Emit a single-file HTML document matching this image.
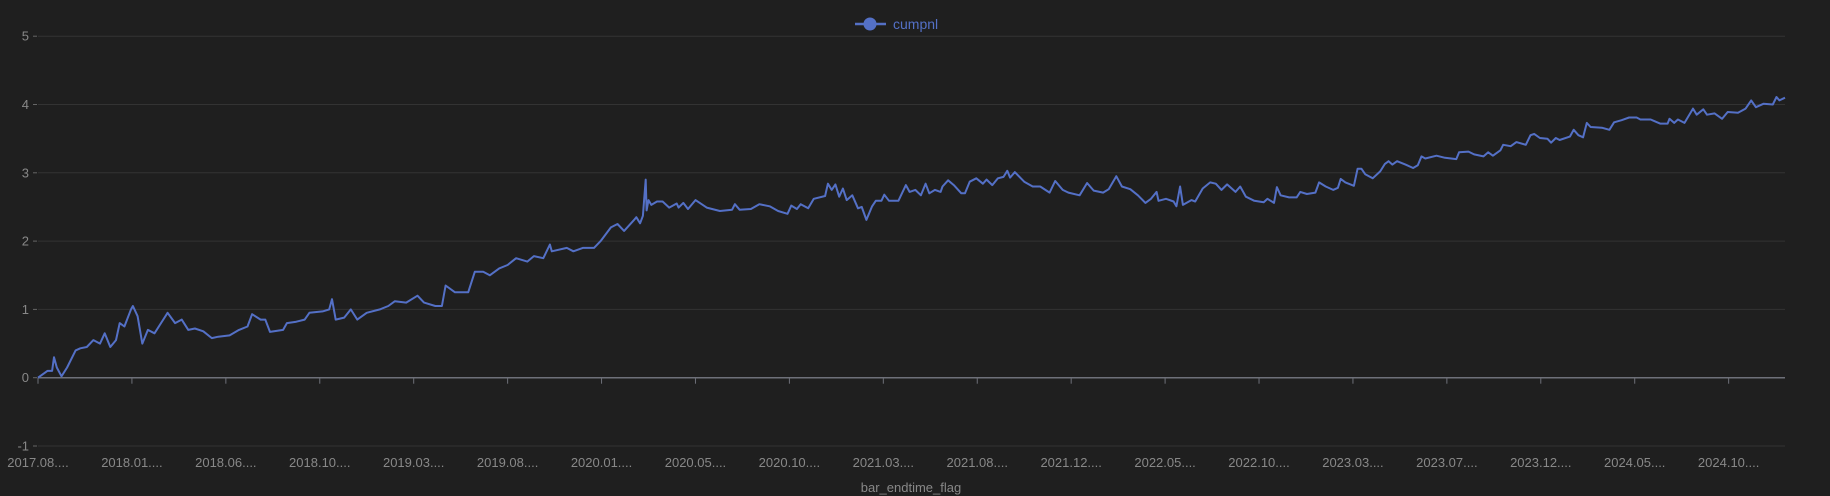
<!DOCTYPE html>
<html><head><meta charset="utf-8"><style>
html,body{margin:0;padding:0;background:#1f1f1f;}
svg{display:block;font-family:"Liberation Sans",sans-serif;}
</style></head><body>
<svg id="chart" width="1830" height="496" viewBox="0 0 1830 496" xmlns="http://www.w3.org/2000/svg">
<rect width="1830" height="496" fill="#1f1f1f"/>
<g id="legend">
<line x1="855" y1="24" x2="886" y2="24" stroke="#5470c6" stroke-width="2.5"/>
<circle cx="870" cy="24" r="6.5" fill="#5470c6"/>
<text x="893" y="29" font-size="14" fill="#5470c6">cumpnl</text>
</g>
<g id="grid"></g><g id="xaxis"></g><g id="yaxis"></g><g id="series"></g>
<text x="911" y="492" font-size="13" fill="#888" text-anchor="middle">bar_endtime_flag</text>
</svg>
<script>
const categories=["2017.08....","2018.01....","2018.06....","2018.10....","2019.03....","2019.08....","2020.01....","2020.05....","2020.10....","2021.03....","2021.08....","2021.12....","2022.05....","2022.10....","2023.03....","2023.07....","2023.12....","2024.05....","2024.10...."];
const yTicks=[-1,0,1,2,3,4,5];
const barIndex=[0,1.0,1.5,1.7,2.0,2.5,3.1,4.0,4.5,5.2,5.9,6.6,7.1,7.7,8.3,8.7,9.2,9.9,10.1,10.6,11.1,11.7,12.4,13.1,13.8,14.6,15.3,16.0,16.7,17.6,18.5,19.2,20.4,21.4,22.3,22.8,23.7,24.2,24.7,26.1,26.5,27.5,28.4,28.9,30.3,31.0,31.3,31.7,32.6,33.3,34.0,35.0,36.4,37.3,38.0,39.2,40.4,41.1,42.3,43.0,43.4,44.4,45.8,46.5,47.4,48.1,49.1,50.0,50.9,52.1,52.8,53.8,54.5,54.7,56.3,57.0,58.0,59.2,59.9,61.0,61.7,62.4,63.4,63.7,
64.1,64.4,64.7,64.8,65.0,65.3,65.9,66.5,67.2,68.0,68.2,68.7,69.2,70.0,71.2,72.6,73.9,74.2,74.7,75.9,76.8,77.9,78.8,79.8,80.2,80.8,81.2,82.0,82.6,83.8,84.1,84.5,84.9,85.3,85.7,86.1,86.7,87.3,87.7,88.2,88.8,89.2,89.8,90.1,90.6,91.6,92.4,92.8,93.4,94.0,94.5,94.9,95.5,96.1,96.3,96.9,97.5,98.3,98.7,99.2,99.9,100.6,101.0,101.6,102.2,102.8,103.2,103.5,104.0,105.0,105.9,106.7,107.7,108.3,109.1,109.7,110.9,111.7,112.4,113.4,114.0,114.8,115.4,116.3,117.1,117.9,118.5,119.1,119.3,120.1,120.9,121.2,121.6,121.9,122.8,123.2,124.0,124.8,125.4,126.0,126.6,127.5,128.0,
128.6,129.5,130.5,130.9,131.6,131.9,132.3,133.2,134.0,134.4,135.1,136.0,136.4,137.1,137.9,138.4,138.7,139.2,140.1,140.5,140.9,141.3,142.1,142.9,143.4,143.8,144.2,144.7,145.6,146.4,146.9,147.3,147.7,148.9,149.8,151.0,151.3,152.3,152.9,153.9,154.4,154.9,155.7,156.0,156.8,157.4,158.4,158.9,159.3,159.9,160.7,161.1,161.6,162.0,163.1,163.5,164.0,164.5,164.9,165.3,166.5,167.3,167.8,168.6,169.4,170.2,170.6,171.7,172.7,173.5,173.7,174.2,174.6,175.3,176.2,176.6,177.3,177.7,178.5,179.3,179.9,181.0,181.8,182.4,182.9,183.7,184.7,185.1,185.4,186];
const cumpnl=[0,0.1,0.1,0.3,0.15,0.02,0.15,0.4,0.43,0.45,0.55,0.5,0.65,0.45,0.55,0.8,0.75,1.0,1.05,0.9,0.5,0.7,0.65,0.8,0.95,0.8,0.85,0.7,0.72,0.68,0.58,0.6,0.62,0.7,0.75,0.93,0.85,0.85,0.67,0.7,0.8,0.82,0.85,0.95,0.97,1.0,1.15,0.85,0.88,1.0,0.85,0.95,1.0,1.05,1.12,1.1,1.2,1.1,1.05,1.05,1.35,1.25,1.25,1.55,1.55,1.5,1.6,1.65,1.75,1.7,1.78,1.75,1.95,1.85,1.9,1.85,1.9,1.9,2.0,2.2,2.25,2.15,2.3,2.35,
2.26,2.37,2.9,2.45,2.6,2.53,2.58,2.58,2.49,2.55,2.49,2.56,2.47,2.6,2.49,2.44,2.46,2.54,2.46,2.47,2.54,2.51,2.44,2.4,2.52,2.47,2.54,2.48,2.62,2.66,2.84,2.75,2.83,2.65,2.77,2.6,2.67,2.48,2.5,2.31,2.51,2.59,2.59,2.68,2.59,2.59,2.82,2.72,2.75,2.67,2.84,2.7,2.75,2.72,2.8,2.89,2.82,2.7,2.7,2.87,2.92,2.84,2.9,2.82,2.92,2.94,3.03,2.93,3.01,2.87,2.8,2.8,2.71,2.88,2.75,2.71,2.67,2.85,2.74,2.71,2.76,2.95,2.8,2.76,2.67,2.56,2.62,2.72,2.59,2.62,2.58,2.51,2.8,2.53,2.6,2.58,2.77,2.86,2.84,2.75,2.83,2.72,2.8,
2.65,2.59,2.57,2.62,2.56,2.79,2.67,2.64,2.64,2.72,2.69,2.71,2.86,2.8,2.75,2.78,2.91,2.86,2.81,3.06,3.06,2.98,2.92,3.02,3.13,3.17,3.12,3.17,3.12,3.07,3.11,3.24,3.21,3.25,3.22,3.2,3.3,3.31,3.27,3.24,3.3,3.25,3.33,3.41,3.39,3.45,3.41,3.55,3.57,3.51,3.5,3.44,3.51,3.48,3.53,3.63,3.55,3.52,3.73,3.67,3.66,3.63,3.74,3.77,3.81,3.81,3.78,3.78,3.72,3.72,3.79,3.73,3.78,3.73,3.94,3.85,3.93,3.85,3.87,3.79,3.89,3.88,3.94,4.06,3.96,4.01,4.0,4.11,4.06,4.1];

const NS="http://www.w3.org/2000/svg";
const X0=38,X1=1785,Y0=377.7,PERY=68.3,BARS=186,TICKSTEP=10;
function xScale(i){return X0+(X1-X0)*i/BARS;}
function yScale(v){return Y0-v*PERY;}
function mk(tag,attrs,parent){const e=document.createElementNS(NS,tag);for(const k in attrs)e.setAttribute(k,attrs[k]);parent.appendChild(e);return e;}
const grid=document.getElementById('grid'),xa=document.getElementById('xaxis'),ya=document.getElementById('yaxis'),ser=document.getElementById('series');
yTicks.forEach(v=>{
  const y=yScale(v);
  if(v!==0){const g=mk('line',{x1:X0,x2:X1,y1:y,y2:y,stroke:'#333','stroke-width':1},grid);
  
  }
  const t=mk('text',{x:X0-9,y:y+4.5,'font-size':13,fill:'#888','text-anchor':'end'},ya);
  t.textContent=v;
  
  
  mk('line',{x1:X0-5,x2:X0-1,y1:y,y2:y,stroke:'#666'},ya);
});
const ax=mk('line',{x1:X0,x2:X1,y1:Y0,y2:Y0,stroke:'#6e7079','stroke-width':1.5},xa);


categories.forEach((c,k)=>{
  const x=xScale(k*TICKSTEP);
  mk('line',{x1:x,x2:x,y1:Y0,y2:Y0+6,stroke:'#6e7079'},xa);
  const t=mk('text',{x:x,y:467,'font-size':13,fill:'#888','text-anchor':'middle'},xa);
  t.textContent=c;
  
  
});
let d='';
barIndex.forEach((b,i)=>{d+=(i?'L':'M')+xScale(b).toFixed(1)+' '+yScale(cumpnl[i]).toFixed(1);});
const p=mk('path',{d:d,fill:'none',stroke:'#5470c6','stroke-width':2,'stroke-linejoin':'round'},ser);


</script>
</body></html>
